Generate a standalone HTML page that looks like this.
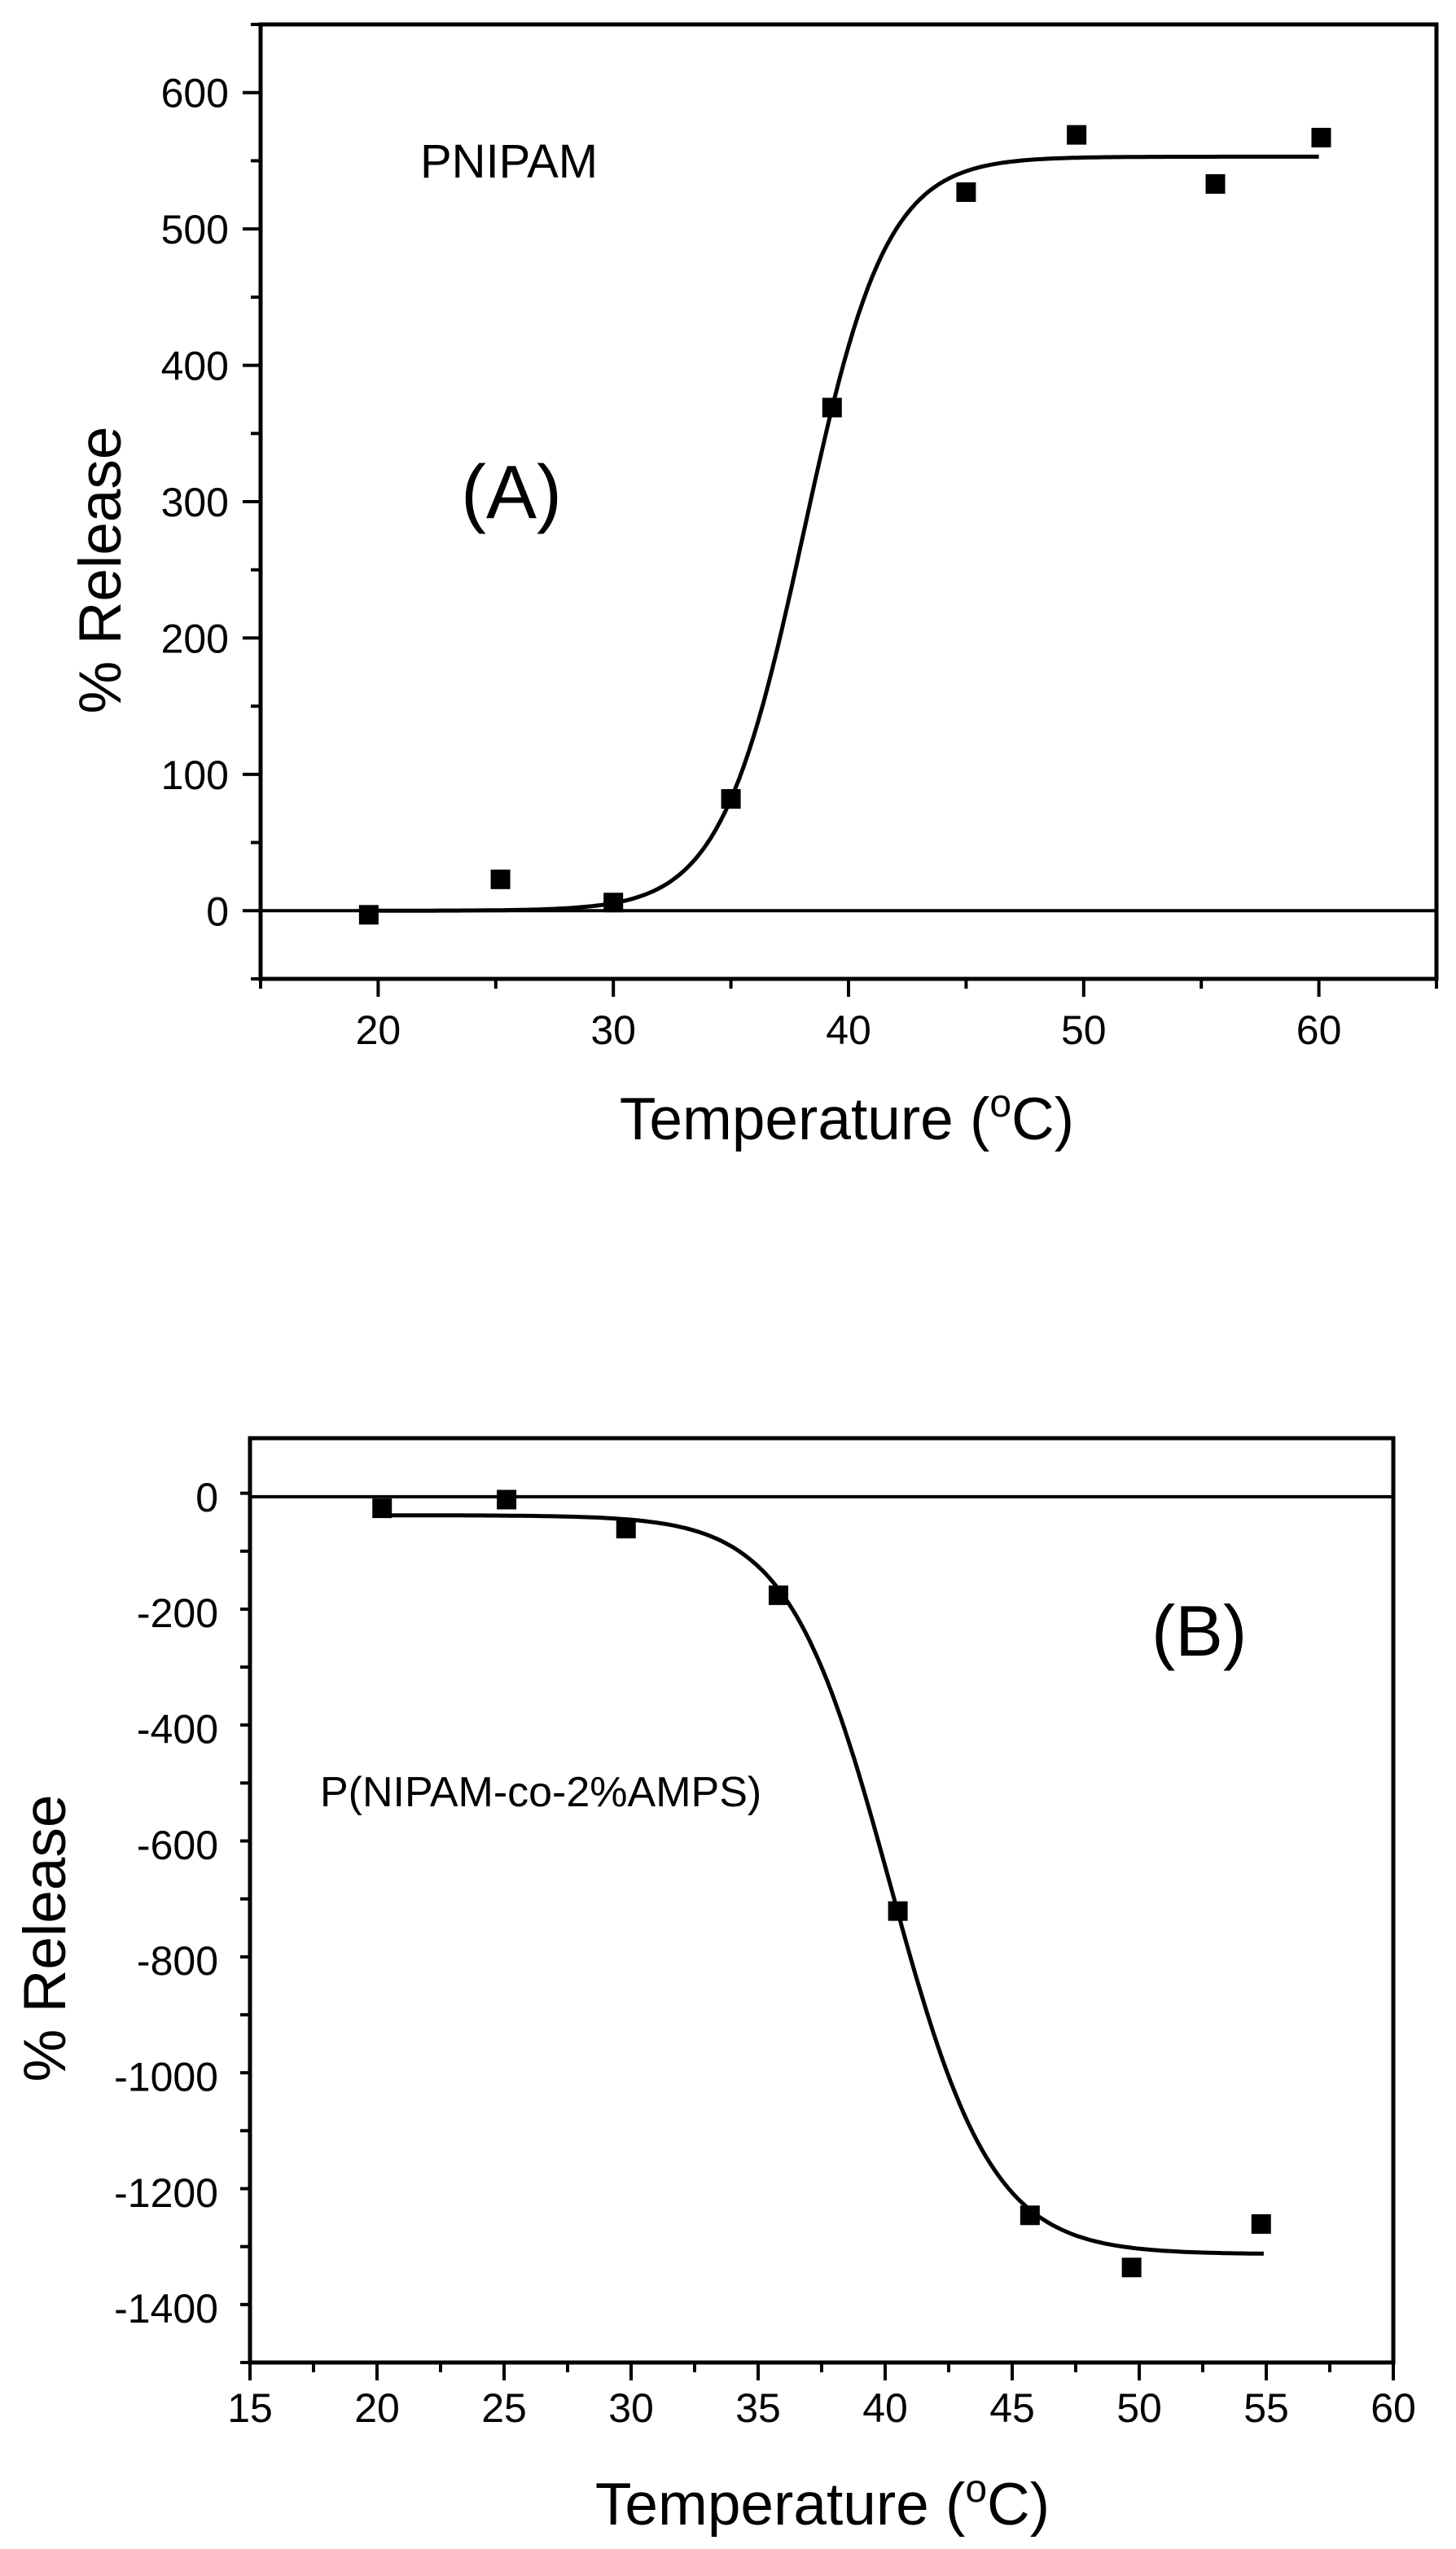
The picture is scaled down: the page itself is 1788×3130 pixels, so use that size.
<!DOCTYPE html>
<html><head><meta charset="utf-8">
<style>
html,body{margin:0;padding:0;background:#fff;}
svg{display:block;}
text{font-family:"Liberation Sans",Arial,sans-serif;fill:#000;}
</style></head>
<body>
<svg id="fig" width="1788" height="3130" viewBox="0 0 1788 3130" xmlns="http://www.w3.org/2000/svg"></svg>
<script>
// Panel A data
const aTemps = [19.6, 25.2, 30.0, 35.0, 39.3, 45.0, 49.7, 55.6, 60.1];
const aRelease = [-3, 23, 6, 82, 369, 527, 569, 533, 567];
const aFit = [0, 553, 38.08, 1.76]; // bottom, top, x0, dx
const aXTicks = [20, 30, 40, 50, 60];
const aYTicks = [0, 100, 200, 300, 400, 500, 600];
// Panel B data
const bTemps = [20.2, 25.1, 29.8, 35.8, 40.5, 45.7, 49.7, 54.8];
const bRelease = [-20, -5, -55, -170, -715, -1240, -1330, -1255];
const bFit = [-32, -1307, 40.2, 2.0];
const bXTicks = [15, 20, 25, 30, 35, 40, 45, 50, 55, 60];
const bYTicks = [0, -200, -400, -600, -800, -1000, -1200, -1400];

const NS = "http://www.w3.org/2000/svg";
const svg = document.getElementById('fig');
function mk(tag, attrs, parent){const e=document.createElementNS(NS,tag);for(const k in attrs)e.setAttribute(k,attrs[k]);(parent||svg).appendChild(e);return e;}

function panel(cfg){
  const g = mk('g',{});
  
  
  const sx = v => cfg.L + (v - cfg.x0)/(cfg.x1 - cfg.x0)*(cfg.R - cfg.L);
  const sy = v => cfg.B - (v - cfg.y0)/(cfg.y1 - cfg.y0)*(cfg.B - cfg.T);
  const frame = mk('rect',{x:cfg.L,y:cfg.T,width:cfg.R-cfg.L,height:cfg.B-cfg.T,fill:'none',stroke:'#000','stroke-width':5},g);
  
  
  const zl = mk('line',{x1:cfg.L,x2:cfg.R,y1:sy(0),y2:sy(0),stroke:'#000','stroke-width':4},g);
  
  
  for(let v=cfg.x0; v<=cfg.x1+1e-6; v+=cfg.xMinor){
    const major = Math.abs(v/cfg.xMajor - Math.round(v/cfg.xMajor))<1e-6;
    const t = mk('line',{x1:sx(v),x2:sx(v),y1:cfg.B,y2:cfg.B+(major?22:12),stroke:'#000','stroke-width':4},g);
    
    
  }
  cfg.xTicks.forEach(v=>{
    const t = mk('text',{x:sx(v),y:cfg.B+cfg.xlOff,'text-anchor':'middle','font-size':cfg.tickFont},g);
    t.textContent = v;
    
    
  });
  for(let v=cfg.y0; v<=cfg.y1+1e-6; v+=cfg.yMinor){
    const major = Math.abs(v/cfg.yMajor - Math.round(v/cfg.yMajor))<1e-6;
    const t = mk('line',{x1:cfg.L-(major?22:12),x2:cfg.L,y1:sy(v),y2:sy(v),stroke:'#000','stroke-width':4},g);
    
    
  }
  cfg.yTicks.forEach(v=>{
    const t = mk('text',{x:cfg.L-39,y:sy(v)+cfg.tickFont*0.36,'text-anchor':'end','font-size':cfg.tickFont},g);
    t.textContent = v;
    
    
  });
  const [A1,A2,xc,dx] = cfg.fit;
  let d='';
  const n=200;
  for(let i=0;i<=n;i++){
    const x = cfg.fitFrom + (cfg.fitTo-cfg.fitFrom)*i/n;
    const y = A2 + (A1-A2)/(1+Math.exp((x-xc)/dx));
    d += (i?'L':'M')+sx(x).toFixed(1)+','+sy(y).toFixed(1);
  }
  const c = mk('path',{d:d,fill:'none',stroke:'#000','stroke-width':5},g);
  
  
  cfg.xs.forEach((x,i)=>{
    const r = mk('rect',{x:sx(x)-12,y:sy(cfg.ys[i])-12,width:24,height:24,fill:'#000'},g);
    
    
  });
  return g;
}

panel({name:'panel-a',L:320,R:1764,T:30,B:1202,x0:15,x1:65,y0:-50,y1:650,xMinor:5,xMajor:10,yMinor:50,yMajor:100,
  xTicks:aXTicks,yTicks:aYTicks,tickFont:50,xlOff:80,fit:aFit,fitFrom:19.6,fitTo:60,xs:aTemps,ys:aRelease});
panel({name:'panel-b',L:307,R:1711,T:1766,B:2901,x0:15,x1:60,y0:-1494,y1:101,xMinor:2.5,xMajor:5,yMinor:100,yMajor:200,
  xTicks:bXTicks,yTicks:bYTicks,tickFont:50,xlOff:73,fit:bFit,fitFrom:20.2,fitTo:54.9,xs:bTemps,ys:bRelease});
</script>
<svg style="position:absolute;left:0;top:0" width="1788" height="3130">
  <text x="1040" y="1399" text-anchor="middle" font-size="73">Temperature (<tspan font-size="48" dy="-28">o</tspan><tspan dy="28">C)</tspan></text>
  <text transform="translate(148,700) rotate(-90)" text-anchor="middle" font-size="73">% Release</text>
  <text x="516" y="218" font-size="58">PNIPAM</text>
  <text x="566" y="636" font-size="93">(A)</text>
  <text x="1010" y="3100" text-anchor="middle" font-size="73">Temperature (<tspan font-size="48" dy="-28">o</tspan><tspan dy="28">C)</tspan></text>
  <text transform="translate(80,2380) rotate(-90)" text-anchor="middle" font-size="73">% Release</text>
  <text x="393" y="2218" font-size="52">P(NIPAM-co-2%AMPS)</text>
  <text x="1414" y="2033" font-size="88">(B)</text>
</svg>
</body></html>
